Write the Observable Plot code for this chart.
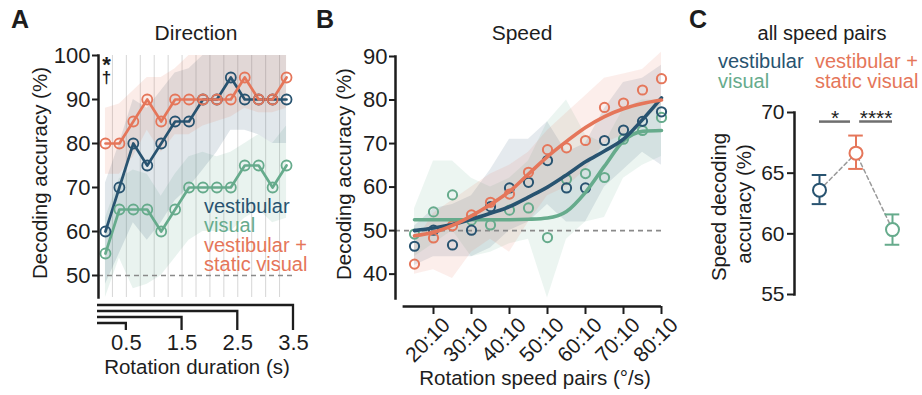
<!DOCTYPE html>
<html><head><meta charset="utf-8">
<script src="https://cdn.jsdelivr.net/npm/d3@7"></script>
<script src="https://cdn.jsdelivr.net/npm/@observablehq/plot@0.6"></script>
<style>
body{margin:0;background:#fff;}
#wrap{position:relative;width:922px;height:395px;overflow:hidden;background:#fff;}
#wrap > svg{position:absolute;top:0;}
</style></head><body><div id="wrap"></div>
<script>
// ---------- shared ----------
const conditions = ["vestibular", "visual", "vestibular + static visual"];
const condColors = ["#285370", "#66ab8c", "#e5765a"];

// ---------- panel A: Direction ----------
const durations = [0.125,0.375,0.625,0.875,1.125,1.375,1.625,1.875,2.125,2.375,2.625,2.875,3.125,3.375];
const durationTicks = [0.5, 1.5, 2.5, 3.5];
const durationGrid = [0.25,0.5,0.75,1,1.25,1.5,1.75,2,2.25,2.5,2.75,3,3.25];
const dirYTicks = [50, 60, 70, 80, 90, 100];
const dirVest   = [60,70,80,75,80,85,85,90,90,95,90,90,90,90];
const dirVestLo = [48,55,62,58,62,67,70,74,78,83,83,82,80,80];
const dirVestHi = [71,80,90,88,92,96,97,100,100,100,100,100,100,100];
const dirVis    = [55,65,65,65,60,65,70,70,70,70,75,75,70,75];
const dirVisLo  = [45,54,47,48,50,54,58,60,60,60,63,65,62,63];
const dirVisHi  = [63,72,74,73,68,73,77,78,77,78,80,82,80,84];
const dirComb   = [80,80,85,90,85,90,90,90,90,90,95,90,90,95];
const dirCombLo = [73,73,77,83,78,82,82,84,85,86,88,87,87,88];
const dirCombHi = [88,89,92,95,95,97,100,100,100,100,100,100,100,100];

// ---------- panel B: Speed ----------
const speeds = [15,20,25,30,35,40,45,50,55,60,65,70,75,80];
const speedTicks = [20,30,40,50,60,70,80];
const speedYTicks = [40,50,60,70,80,90];
const spVest    = [46.4,50.1,46.7,50.1,55.5,59.8,61.1,66.1,59.8,59.8,70.7,73.1,75.1,77.3];
const spVestLo  = [42,44,44,44,46,50,52,56,52,52,60,64,68,65];
const spVestHi  = [51,55,56,58,64,71,71,75,68,70,78,84,85,88];
const spVestFit = [50,50.6,51.4,52.6,54,55.5,57.7,60,62.8,65.8,68.3,71,75.5,80.5];
const spVis     = [49.2,54.3,58.2,52.4,51.3,54.7,55.2,48.4,61.8,63.1,62.2,71.0,73.0,76.0];
const spVisLo   = [44,47,50,44,45,47,48,34.5,48,52,53,62,65,67];
const spVisHi   = [55,66,66,62,60,62,66,75,80,72,70,78,80,80];
const spVisFit  = [52.5,52.5,52.5,52.5,52.5,52.5,52.6,52.9,54.4,58.8,64.8,70.6,72.8,73];
const spComb    = [42.3,48.3,51.1,53.6,56.5,58.4,63.4,68.6,69.0,70.7,78.3,79.3,82.3,84.9];
const spCombLo  = [40,41,39,45,48,45,52,58,60,64,70,72,75,79];
const spCombHi  = [47,54,57,60,63,65,68,73,77,81,85,86,87,91];
const spCombFit = [48.8,49.6,51.2,53.4,56,59,63,67,70.5,73.7,76.2,78,79.2,80];

// ---------- panel C: all speed pairs ----------
const cConds = ["vestibular", "vestibular + static visual", "visual"];
const cMean = [63.6, 66.65, 60.35];
const cLo   = [62.45, 65.35, 59.1];
const cHi   = [64.85, 68.1, 61.6];
const cYTicks = [55, 60, 65, 70];
const sigPairs = [{x1: 0, x2: 0.85, label: "*"}, {x1: 1.1, x2: 2, label: "****"}];
const sigLevel = 69.25;

// ---------- build tables ----------
const dirSeries = [[dirVest, dirVestLo, dirVestHi], [dirVis, dirVisLo, dirVisHi], [dirComb, dirCombLo, dirCombHi]];
const dirData = conditions.flatMap((c, k) => durations.map((t, i) => ({cond: c, t, v: dirSeries[k][0][i], lo: dirSeries[k][1][i], hi: dirSeries[k][2][i]})));
const spSeries = [[spVest, spVestLo, spVestHi, spVestFit], [spVis, spVisLo, spVisHi, spVisFit], [spComb, spCombLo, spCombHi, spCombFit]];
const spData = conditions.flatMap((c, k) => speeds.map((s, i) => ({cond: c, s, v: spSeries[k][0][i], lo: spSeries[k][1][i], hi: spSeries[k][2][i], f: spSeries[k][3][i]})));
const cData = cConds.map((c, i) => ({cond: c, i, m: cMean[i], lo: cLo[i], hi: cHi[i]}));

const FONT = "Liberation Sans, Arial, Helvetica, sans-serif";
const INK = "#1d1d1d";
const colorScale = {domain: conditions, range: condColors};
const style = {fontFamily: FONT, fontSize: "22px", color: INK, background: "transparent", overflow: "visible"};
const byCond = (data, c) => data.filter(d => d.cond === c);
const drawOrder = ["visual", "vestibular", "vestibular + static visual"];

// ---------- Panel A ----------
const A = Plot.plot({
  width: 310, height: 395,
  marginLeft: 98, marginRight: 17, marginTop: 55, marginBottom: 98,
  x: {domain: [0, 3.5]},
  y: {domain: [45, 100]},
  color: colorScale,
  style,
  marks: [
    Plot.ruleX(durationGrid, {stroke: "#d6d6d6", strokeWidth: 1}),
    ...drawOrder.map(c => Plot.areaY(byCond(dirData, c), {x: "t", y1: "lo", y2: "hi", fill: "cond", fillOpacity: 0.14})),
    Plot.ruleY([50], {stroke: "#8a8a8a", strokeDasharray: "5,4", strokeWidth: 1.6}),
    ...drawOrder.map(c => Plot.line(byCond(dirData, c), {x: "t", y: "v", stroke: "cond", strokeWidth: 2.7})),
    ...drawOrder.map(c => Plot.dot(byCond(dirData, c), {x: "t", y: "v", stroke: "cond", r: 5, strokeWidth: 1.8})),
    Plot.frame({anchor: "left", stroke: INK, strokeWidth: 2.5}),
    Plot.axisY({ticks: dirYTicks, tickSize: 6, tickPadding: 2, strokeWidth: 2, label: null, fontSize: 22}),
    Plot.axisX({ticks: durationTicks, tickSize: 0, tickPadding: 37, label: null, fontSize: 22, tickFormat: d => d.toFixed(1)})
  ]
});
A.style.left = "0px";

// ---------- Panel B ----------
const B = Plot.plot({
  width: 380, height: 395,
  marginLeft: 95, marginRight: 19, marginTop: 56, marginBottom: 97,
  x: {domain: [10, 80]},
  y: {domain: [34.4, 90]},
  color: colorScale,
  style,
  marks: [
    ...drawOrder.map(c => Plot.areaY(byCond(spData, c), {x: "s", y1: "lo", y2: "hi", fill: "cond", fillOpacity: 0.12})),
    Plot.ruleY([50], {stroke: "#8a8a8a", strokeDasharray: "5,4", strokeWidth: 1.6}),
    ...drawOrder.map(c => Plot.dot(byCond(spData, c), {x: "s", y: "v", stroke: "cond", r: 4.6, strokeWidth: 2})),
    ...drawOrder.map(c => Plot.line(byCond(spData, c), {x: "s", y: "f", stroke: "cond", strokeWidth: 3.6, curve: "monotone-x"})),
    Plot.frame({anchor: "left", stroke: INK, strokeWidth: 2.5}),
    Plot.ruleY([34.4], {x1: 12, x2: 80, dy: 8, stroke: INK, strokeWidth: 2.5}),
    Plot.axisY({ticks: speedYTicks, tickSize: 6, tickPadding: 2, strokeWidth: 2, label: null, fontSize: 22}),
    Plot.axisX({ticks: speedTicks, tickSize: 8, dy: 8, text: null, strokeWidth: 2, label: null}),
    Plot.axisX({ticks: speedTicks, tickSize: 0, dy: 8, dx: 13, tickRotate: -45, tickPadding: 15, label: null, fontSize: 21, tickFormat: d => d + ":10"})
  ]
});
B.style.left = "300px";

// ---------- Panel C ----------
const C = Plot.plot({
  width: 242, height: 395,
  marginLeft: 114, marginRight: 0, marginTop: 112, marginBottom: 101,
  x: {domain: [0, 2], range: [139, 212], axis: null},
  y: {domain: [55, 70]},
  color: {domain: conditions, range: condColors},
  style: {...style, fontSize: "21px"},
  marks: [
    Plot.line(cData, {x: "i", y: "m", stroke: "#9a9a9a", strokeDasharray: "4,3", strokeWidth: 1.5}),
    Plot.ruleX(cData, {x: "i", y1: "lo", y2: "hi", stroke: "cond", strokeWidth: 2}),
    Plot.ruleY(cData, {y: "hi", x1: d => d.i - 0.2, x2: d => d.i + 0.2, stroke: "cond", strokeWidth: 2}),
    Plot.ruleY(cData, {y: "lo", x1: d => d.i - 0.2, x2: d => d.i + 0.2, stroke: "cond", strokeWidth: 2}),
    Plot.dot(cData, {x: "i", y: "m", r: 6.5, stroke: "cond", fill: "white", strokeWidth: 2}),
    Plot.ruleY(sigPairs, {y: () => sigLevel, x1: "x1", x2: "x2", stroke: "#6f6f6f", strokeWidth: 2.5}),
    Plot.text(sigPairs, {x: d => (d.x1 + d.x2) / 2, y: () => sigLevel, text: "label", lineAnchor: "bottom", dy: 3, fontSize: 21, fill: INK}),
    Plot.frame({anchor: "left", stroke: INK, strokeWidth: 2.5}),
    Plot.axisY({ticks: cYTicks, tickSize: 7, tickPadding: 3, strokeWidth: 2, label: null, fontSize: 21})
  ]
});
C.style.left = "680px";

const wrap = document.getElementById("wrap");
wrap.append(A, B, C);

// ---------- overlay: bracket axis for A, titles, labels ----------
const ov = d3.select(wrap).append("svg")
  .attr("width", 922).attr("height", 395)
  .style("position", "absolute").style("left", "0px").style("top", "0px")
  .style("font-family", FONT).style("pointer-events", "none");

const sx = A.scale("x");
const x0 = sx.apply(0) - 1;
[3.5, 2.5, 1.5, 0.5].forEach((t, k) => {
  const yy = 305 + 6 * k;
  ov.append("path")
    .attr("d", `M${x0},${yy}H${sx.apply(t)}V330`)
    .attr("fill", "none").attr("stroke", INK).attr("stroke-width", 2.3);
});

function txt(x, y, s, opts = {}) {
  const t = ov.append("text").attr("x", x).attr("y", y).text(s)
    .attr("font-size", opts.size || 20)
    .attr("fill", opts.fill || INK)
    .attr("text-anchor", opts.anchor || "start");
  if (opts.weight) t.attr("font-weight", opts.weight);
  if (opts.rotate) t.attr("transform", `rotate(-90,${x},${y})`).attr("dominant-baseline", "central");
  return t;
}
function block(x, y, lines, size, gap) {
  const t = ov.append("text").attr("x", x).attr("y", y).attr("font-size", size);
  lines.forEach(([s, fill], i) => {
    t.append("tspan").attr("x", x).attr("dy", i === 0 ? 0 : gap).attr("fill", fill).text(s);
  });
  return t;
}
// panel letters
txt(11, 28, "A", {size: 25, weight: "bold"});
txt(316, 28, "B", {size: 25, weight: "bold"});
txt(689, 28, "C", {size: 25, weight: "bold"});
// titles
txt(196, 40, "Direction", {size: 21, anchor: "middle"});
txt(522, 40, "Speed", {size: 21, anchor: "middle"});
txt(822, 40, "all speed pairs", {size: 20, anchor: "middle"});
// axis labels
txt(39, 173, "Decoding accuracy (%)", {size: 20.5, anchor: "middle", rotate: true});
txt(343, 174, "Decoding accuracy (%)", {size: 20.5, anchor: "middle", rotate: true});
txt(718, 207, "Speed decoding", {size: 20.5, anchor: "middle", rotate: true});
txt(743, 204, "accuracy (%)", {size: 20.5, anchor: "middle", rotate: true});
txt(197, 374, "Rotation duration (s)", {size: 20.5, anchor: "middle"});
txt(535, 385, "Rotation speed pairs (°/s)", {size: 20.5, anchor: "middle"});
// significance marks in A (one text block)
const sig = ov.append("text").attr("x", 106.5).attr("y", 72).attr("text-anchor", "middle").attr("font-weight", "bold").attr("fill", INK);
sig.append("tspan").attr("x", 106.5).attr("font-size", 22).text("*");
sig.append("tspan").attr("x", 106.5).attr("dy", 11).attr("font-size", 17).text("†");
// legends
block(204, 213, [["vestibular", condColors[0]], ["visual", condColors[1]], ["vestibular +", condColors[2]], ["static visual", condColors[2]]], 20, 19.3);
block(718, 68, [["vestibular", condColors[0]], ["visual", condColors[1]]], 20, 20);
block(815, 68, [["vestibular +", condColors[2]], ["static visual", condColors[2]]], 20, 20);
</script>
</body></html>
